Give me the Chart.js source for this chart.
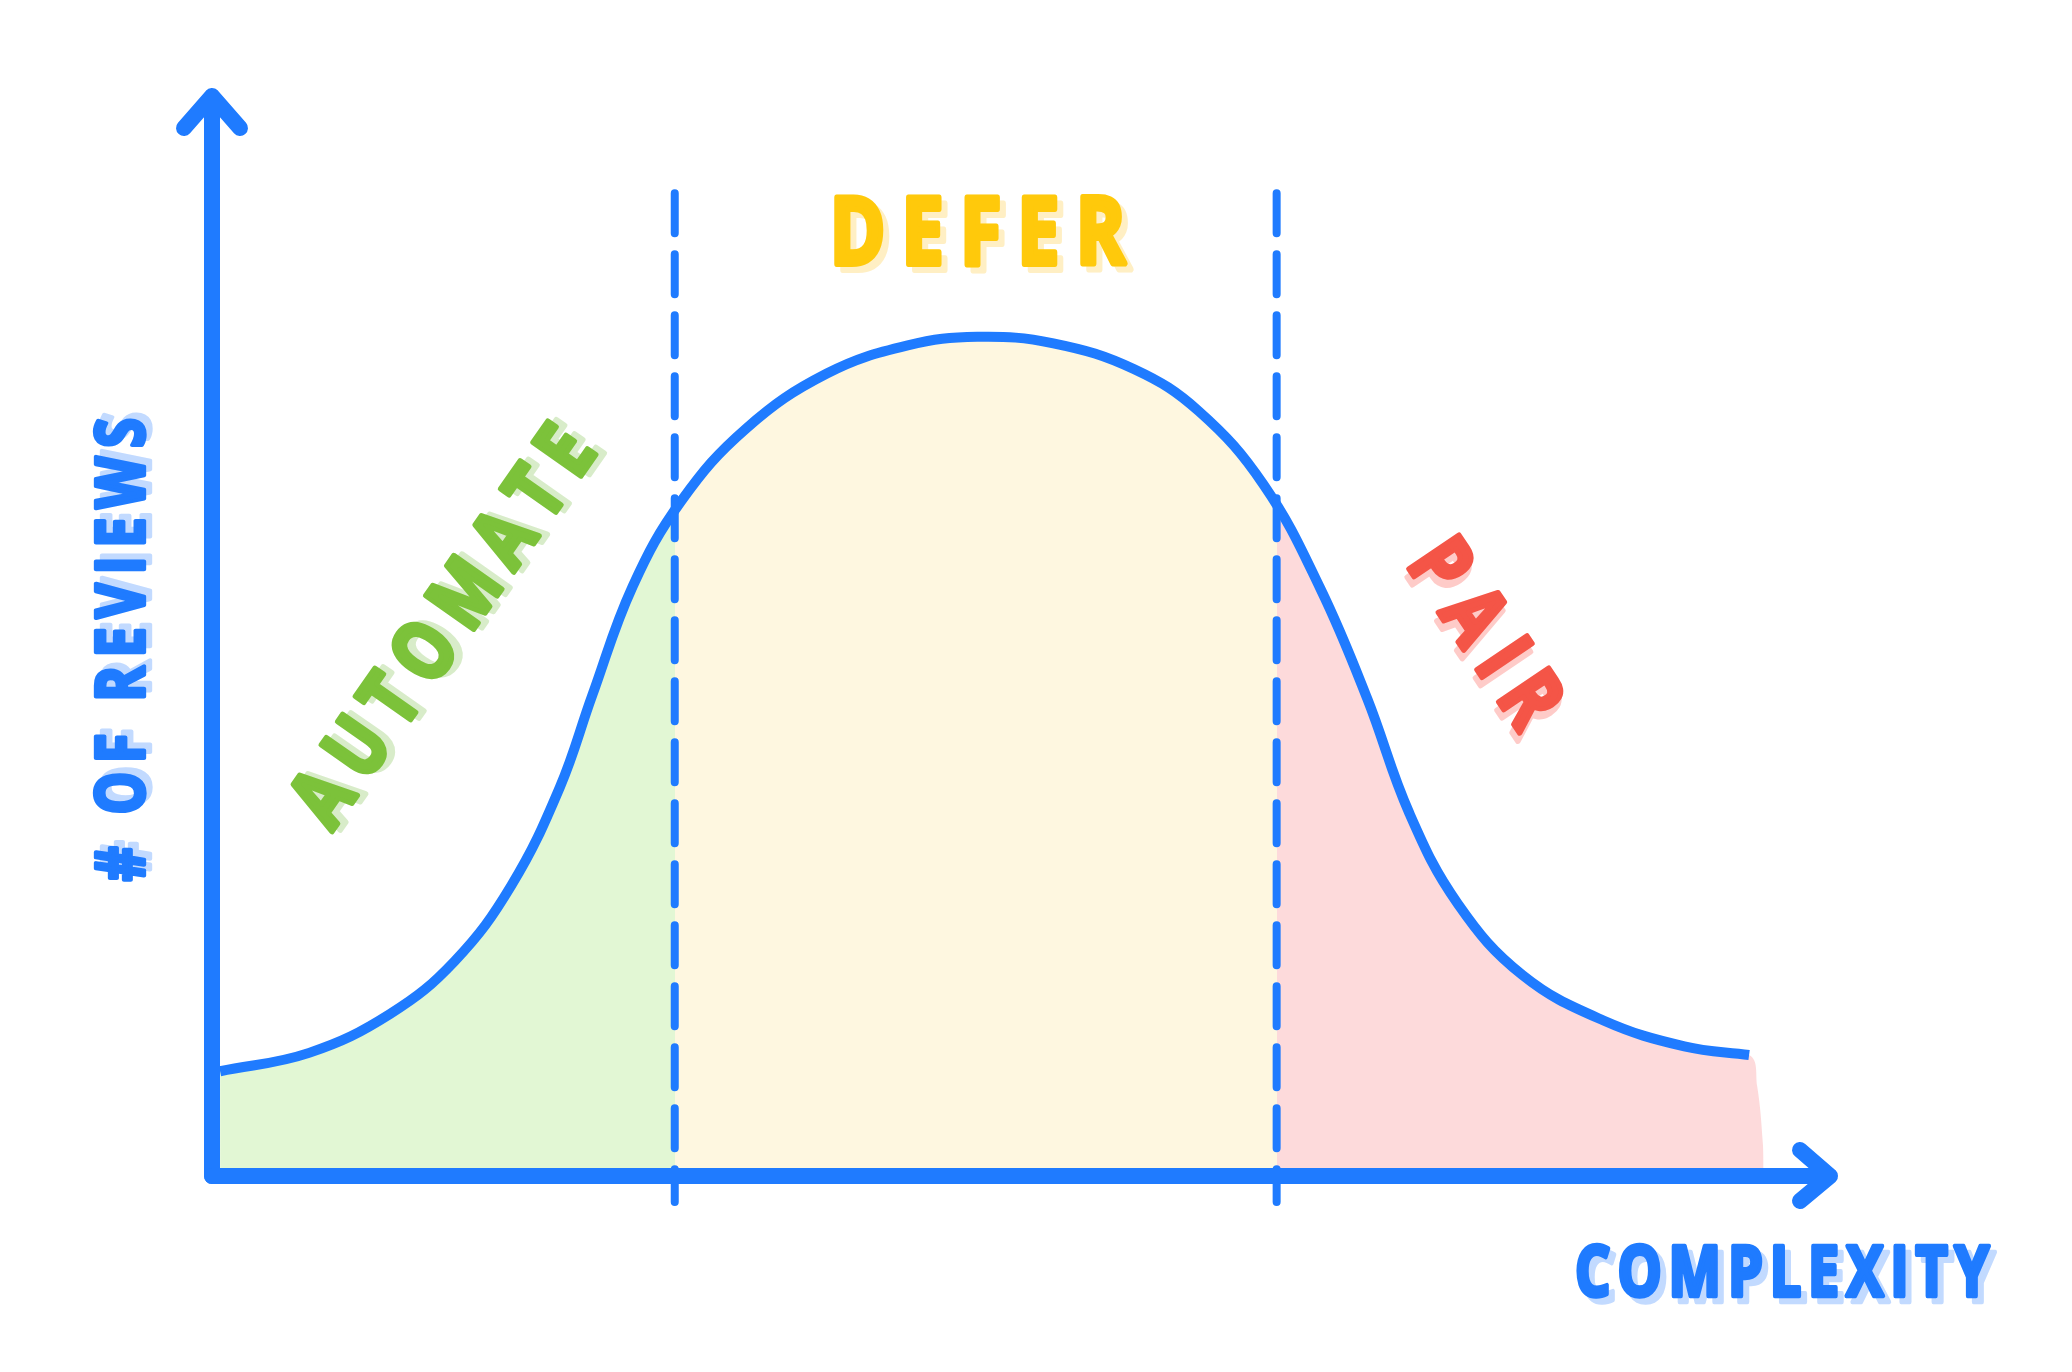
<!DOCTYPE html>
<html>
<head>
<meta charset="utf-8">
<script src="https://cdn.jsdelivr.net/npm/chart.js@4.4.1/dist/chart.umd.min.js"></script>
<style>
  html, body { margin: 0; padding: 0; background: #ffffff; }
  #wrap { width: 2072px; height: 1372px; position: relative; }
</style>
</head>
<body>
<div id="wrap"><canvas id="reviewCurve"></canvas></div>
<script>
// complexity (x) vs # of reviews (y), both on a 0-100 scale
const curveX = [0.5, 6, 11, 15, 18.5, 21.5, 23.5, 26, 29, 33, 38, 43, 47.3,
                52, 57, 61, 65, 68.5, 71.4, 74, 77, 81, 86, 91, 95];
const curveY = [9.7, 11.4, 15.0, 19.9, 26.9, 36.0, 44.5, 54.6, 62.5, 69.2, 74.3, 76.9, 77.7,
                77.1, 74.7, 70.8, 64.0, 54.4, 44.2, 33.6, 25.2, 18.6, 14.4, 12.0, 11.2];

// the pink wash runs a little past the end of the curve
const tailX = [95.5, 95.85, 95.9];
const tailY = [8.3, 3.0, 0];

// where the zones split (the dashed lines)
const zoneLimits = [28.6, 65.8];
const dashTop = 91.0;
const dashBottom = -2.4;

const zoneNames = ['AUTOMATE', 'DEFER', 'PAIR'];
const zoneFills = ['#e2f7d4', '#fef7e0', '#fddadb'];
const axisTitles = ['COMPLEXITY', '# OF REVIEWS'];

const blue = '#1f7bff';
const smooth = 0.4;

const linePoints = curveX.map((x, i) => ({ x: x, y: curveY[i] }));
const washPoints = linePoints.concat(tailX.map((x, i) => ({ x: x, y: tailY[i] })));

// one wash under the curve, coloured by zone with hard stops at the splits
function zoneWash(c) {
    const chart = c.chart;
    if (!chart.chartArea) return zoneFills[1];
    const w = chart.width;
    const a = chart.scales.x.getPixelForValue(zoneLimits[0]) / w;
    const b = chart.scales.x.getPixelForValue(zoneLimits[1]) / w;
    const g = chart.ctx.createLinearGradient(0, 0, w, 0);
    g.addColorStop(0, zoneFills[0]);
    g.addColorStop(a, zoneFills[0]);
    g.addColorStop(a, zoneFills[1]);
    g.addColorStop(b, zoneFills[1]);
    g.addColorStop(b, zoneFills[2]);
    g.addColorStop(1, zoneFills[2]);
    return g;
}

const washSet = {
    label: 'zones',
    data: washPoints,
    borderWidth: 0,
    borderColor: 'rgba(0,0,0,0)',
    backgroundColor: zoneWash,
    fill: 'origin',
    pointRadius: 0,
    tension: smooth,
    order: 5
};

const curveSet = {
    label: 'reviews',
    data: linePoints,
    borderColor: blue,
    borderWidth: 10,
    borderCapStyle: 'butt',
    pointRadius: 0,
    fill: false,
    tension: smooth,
    order: 1
};

const dashSets = zoneLimits.map(x => ({
    label: 'split ' + x,
    data: [{ x: x, y: dashTop }, { x: x, y: dashBottom }],
    borderColor: blue,
    borderWidth: 8,
    borderDash: [40, 21],
    borderCapStyle: 'round',
    pointRadius: 0,
    fill: false,
    clip: false,
    order: 0
}));

// hand-lettered word, letters spread out, with a soft offset shadow
function drawWord(ctx, text, cx, cy, angleDeg, width, height, color, shade) {
    const stroke = height * 0.08;
    const capH = height - stroke;
    const fontAt = s => '700 ' + s + 'px "Open Sans", "DejaVu Sans", sans-serif';
    ctx.font = fontAt(100);
    let m = ctx.measureText(text);
    const size = 100 * capH / (m.actualBoundingBoxAscent + m.actualBoundingBoxDescent);
    ctx.font = fontAt(size);
    m = ctx.measureText(text);

    const chars = [...text];
    const adv = chars.map(c => ctx.measureText(c).width);
    const first = ctx.measureText(chars[0]);
    const last = ctx.measureText(chars[chars.length - 1]);
    const base = adv.slice(0, -1).reduce((a, b) => a + b, 0) +
                 first.actualBoundingBoxLeft + last.actualBoundingBoxRight;
    let sx = 0.8;
    let gap = (width - stroke - sx * base) / (chars.length - 1);
    if (gap < 1) {
        gap = 1;
        sx = (width - stroke - gap * (chars.length - 1)) / base;
    }
    const xs = [];
    let pos = 0;
    chars.forEach((c, i) => { xs.push(pos); pos += adv[i] * sx + gap; });
    const inkLeft = xs[0] - first.actualBoundingBoxLeft * sx;
    const inkRight = xs[xs.length - 1] + last.actualBoundingBoxRight * sx;
    const shift = (inkLeft + inkRight) / 2;
    const ty = (m.actualBoundingBoxAscent - m.actualBoundingBoxDescent) / 2;

    ctx.save();
    ctx.translate(cx, cy);
    ctx.rotate(angleDeg * Math.PI / 180);
    ctx.lineJoin = 'round';
    ctx.lineCap = 'round';
    ctx.textAlign = 'left';
    ctx.textBaseline = 'alphabetic';
    [[6, 6, shade], [0, 0, color]].forEach(([ox, oy, col]) => {
        ctx.fillStyle = col;
        ctx.strokeStyle = col;
        chars.forEach((c, i) => {
            if (c === ' ') return;
            ctx.save();
            ctx.translate(ox + xs[i] - shift, oy + ty);
            ctx.scale(sx, 1);
            ctx.lineWidth = stroke;
            ctx.fillText(c, 0, 0);
            ctx.strokeText(c, 0, 0);
            ctx.restore();
        });
    });
    ctx.restore();
}

const sketchAxes = {
    id: 'sketchAxes',
    afterDatasetsDraw(chart) {
        const ctx = chart.ctx;
        const xs = chart.scales.x, ys = chart.scales.y;
        const x0 = xs.getPixelForValue(0), xEnd = xs.getPixelForValue(100);
        const y0 = ys.getPixelForValue(0), yEnd = ys.getPixelForValue(100);

        ctx.save();
        ctx.strokeStyle = blue;
        ctx.lineWidth = 16;
        ctx.lineCap = 'round';
        ctx.lineJoin = 'round';

        ctx.beginPath();
        ctx.moveTo(x0, y0);
        ctx.lineTo(x0, yEnd);
        ctx.moveTo(x0 - 28, yEnd + 32);
        ctx.lineTo(x0, yEnd);
        ctx.lineTo(x0 + 28, yEnd + 32);
        ctx.stroke();

        ctx.beginPath();
        ctx.moveTo(x0, y0);
        ctx.lineTo(xEnd, y0);
        ctx.moveTo(xEnd - 30, y0 - 26);
        ctx.lineTo(xEnd, y0);
        ctx.lineTo(xEnd - 30, y0 + 25);
        ctx.stroke();
        ctx.restore();
    },
    afterDraw(chart) {
        const ctx = chart.ctx;
        drawWord(ctx, zoneNames[0], 440, 626, -55, 467, 66, '#7cc23a', '#d8ecc9');
        drawWord(ctx, zoneNames[1], 981, 231, 0, 295, 75, '#ffc90b', '#ffefc4');
        drawWord(ctx, zoneNames[2], 1489, 634, 56, 205, 67, '#f45547', '#fecbc8');
        drawWord(ctx, axisTitles[0], 1784, 1271, 0, 416, 56, blue, '#c2daff');
        drawWord(ctx, axisTitles[1], 120, 650, -90, 465, 54, blue, '#c2daff');
    }
};

new Chart(document.getElementById('reviewCurve').getContext('2d'), {
    type: 'line',
    data: { datasets: [...dashSets, curveSet, washSet] },
    options: {
        responsive: true,
        maintainAspectRatio: false,
        animation: false,
        layout: { padding: { left: 212, right: 242, top: 96, bottom: 196 } },
        scales: {
            x: { type: 'linear', min: 0, max: 100, display: false },
            y: { type: 'linear', min: 0, max: 100, display: false }
        },
        plugins: {
            legend: { display: false },
            tooltip: { enabled: false }
        }
    },
    plugins: [sketchAxes]
});
</script>
</body>
</html>
